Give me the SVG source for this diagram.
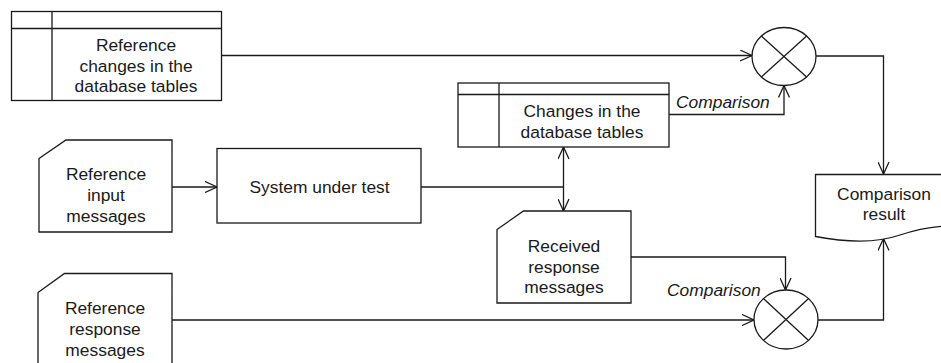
<svg xmlns="http://www.w3.org/2000/svg" width="941" height="363" viewBox="0 0 941 363">
<defs>
<marker id="arr" viewBox="0 0 14 12" refX="13" refY="6" markerWidth="14" markerHeight="12" markerUnits="userSpaceOnUse" orient="auto-start-reverse">
<path d="M1,0.5 L13,6 L1,11.5" fill="none" stroke="#1a1a1a" stroke-width="1.3"/>
</marker>
<style>
.s{fill:#fff;stroke:#1a1a1a;stroke-width:1.3}
.l{fill:none;stroke:#1a1a1a;stroke-width:1.3}
.t{font-family:"Liberation Sans",Arial,sans-serif;font-size:17.4px;fill:#1a1a1a;text-anchor:middle}
.i{font-family:"Liberation Sans",Arial,sans-serif;font-size:17.4px;fill:#1a1a1a;font-style:italic}
</style>
</defs>
<g id="connectors">
<path class="l" d="M221.5,55.5 H752" marker-end="url(#arr)"/>
<path class="l" d="M669,114.5 H784 V85.5" marker-end="url(#arr)"/>
<path class="l" d="M816,56 H883.5 V174" marker-end="url(#arr)"/>
<path class="l" d="M172,187 H217" marker-end="url(#arr)"/>
<path class="l" d="M421,187 H563.5"/>
<path class="l" d="M563.5,147 V211" marker-start="url(#arr)" marker-end="url(#arr)"/>
<path class="l" d="M631,257 H785.5 V290" marker-end="url(#arr)"/>
<path class="l" d="M172,320 H754" marker-end="url(#arr)"/>
<path class="l" d="M818,320 H883.5 V238.5" marker-end="url(#arr)"/>
<text class="i" x="676" y="108">Comparison</text>
<text class="i" x="667" y="296">Comparison</text>
</g>
<g id="ref-changes">
<rect class="s" x="11.5" y="11.5" width="210" height="89"/>
<path class="l" d="M11.5,28.5 H221.5 M52,11.5 V100.5"/>
<text class="t" x="136" y="51">Reference</text>
<text class="t" x="136" y="71.5">changes in the</text>
<text class="t" x="136" y="92">database tables</text>
</g>
<g id="ref-input">
<path class="s" d="M39,158.5 L66,140 H172 V232 H39 Z"/>
<text class="t" x="106" y="180">Reference</text>
<text class="t" x="106" y="201">input</text>
<text class="t" x="106" y="222">messages</text>
</g>
<g id="sut">
<rect class="s" x="217" y="148.5" width="204" height="74.5"/>
<text class="t" x="319.5" y="193">System under test</text>
</g>
<g id="changes">
<rect class="s" x="458" y="83" width="211" height="64"/>
<path class="l" d="M458,94.5 H669 M499,83 V147"/>
<text class="t" x="582" y="117">Changes in the</text>
<text class="t" x="582" y="138">database tables</text>
</g>
<g id="received">
<path class="s" d="M497,229.5 L523.5,211 H631 V303 H497 Z"/>
<text class="t" x="564" y="252">Received</text>
<text class="t" x="564" y="272.5">response</text>
<text class="t" x="564" y="293">messages</text>
</g>
<g id="ref-response">
<path class="s" d="M38,292.5 L64.5,273.5 H172 V370 H38 Z"/>
<text class="t" x="105" y="313.5">Reference</text>
<text class="t" x="105" y="334.5">response</text>
<text class="t" x="105" y="355.5">messages</text>
</g>
<g id="compare1">
<ellipse class="s" cx="784" cy="56.5" rx="32" ry="29"/>
<path class="l" d="M761.4,36 L806.6,77 M806.6,36 L761.4,77"/>
</g>
<g id="compare2">
<ellipse class="s" cx="786" cy="319.5" rx="32" ry="29.5"/>
<path class="l" d="M763.4,298.6 L808.6,340.4 M808.6,298.6 L763.4,340.4"/>
</g>
<g id="result">
<path class="s" d="M815.5,174.5 H946 V226 C930,227 915,230 900,235 C880,242 850,243 815.5,236.5 Z"/>
<text class="t" x="884" y="199.5">Comparison</text>
<text class="t" x="884" y="219.5">result</text>
</g>
</svg>
